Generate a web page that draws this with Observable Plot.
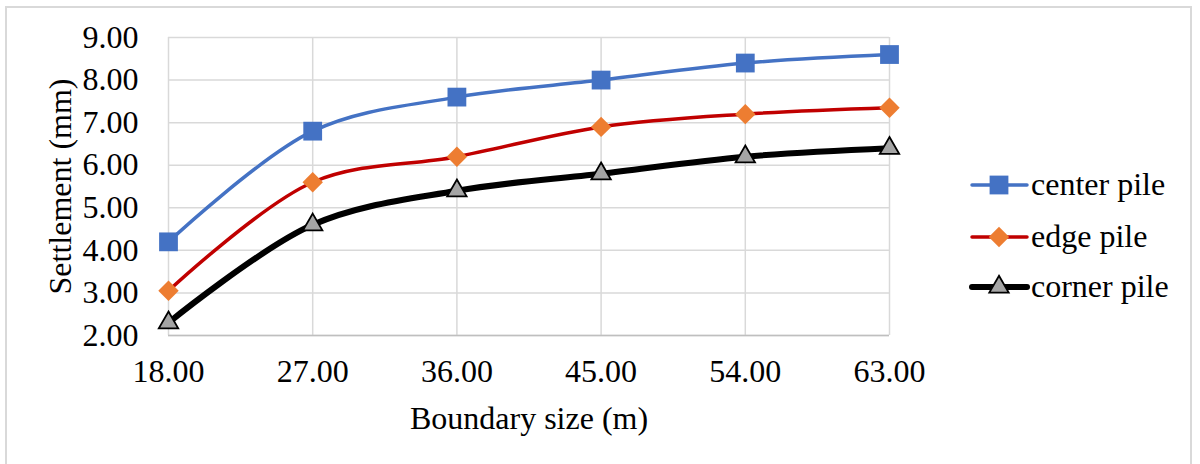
<!DOCTYPE html>
<html>
<head>
<meta charset="utf-8">
<script src="https://cdn.jsdelivr.net/npm/d3@7"></script>
<script src="https://cdn.jsdelivr.net/npm/@observablehq/plot@0.6"></script>
<style>
  html, body { margin: 0; padding: 0; background: #fff; overflow: hidden; }
  #wrap { position: relative; width: 1200px; height: 464px; }
  #border { position: absolute; left: 5px; top: 6px; width: 1187px; height: 500px;
            border: 2px solid #d9d9d9; box-sizing: border-box; }
  #chart { position: absolute; left: 0; top: 0; }
  #legend { position: absolute; left: 0; top: 0; font-family: 'Liberation Serif', 'Times New Roman', serif; }
</style>
</head>
<body>
<div id="wrap">
  <div id="border"></div>
  <div id="chart"></div>
  <svg id="legend" width="1200" height="464"></svg>
</div>
<script>
// ---- data ----
const boundary = [18, 27, 36, 45, 54, 63];
const centerPile = [4.2, 6.8, 7.6, 8.0, 8.4, 8.6];
const edgePile = [3.05, 5.6, 6.2, 6.9, 7.2, 7.35];
const cornerPile = [2.3, 4.6, 5.4, 5.8, 6.2, 6.4];
const yTicks = [2, 3, 4, 5, 6, 7, 8, 9];
const xTicks = [18, 27, 36, 45, 54, 63];
const seriesNames = ["center pile", "edge pile", "corner pile"];
const xLabel = "Boundary size (m)";
const yLabel = "Settlement (mm)";

const styles = {
  "center pile": {line: "#4472C4", width: 3.5, symbol: "square", fill: "#4472C4", stroke: "none", r: 10.6},
  "edge pile": {line: "#C00000", width: 3.5, symbol: "diamond2", fill: "#ED7D31", stroke: "none", r: 9.2},
  "corner pile": {line: "#000000", width: 6, symbol: "triangle", fill: "#A5A5A5", stroke: "#000", r: 7.2}
};

const seriesValues = [centerPile, edgePile, cornerPile];
const rows = [];
seriesNames.forEach((name, i) => {
  boundary.forEach((b, j) => rows.push({series: name, x: b, y: seriesValues[i][j]}));
});

const font = "'Liberation Serif', 'Times New Roman', serif";
const fs = 32;
const fmt = d3.format(".2f");

const marks = [
  Plot.gridX(xTicks, {stroke: "#d9d9d9", strokeOpacity: 1, strokeWidth: 1.5}),
  Plot.gridY(yTicks, {stroke: "#d9d9d9", strokeOpacity: 1, strokeWidth: 1.5}),
  Plot.ruleY([2], {stroke: "#bfbfbf", strokeWidth: 1.5}),
  Plot.axisX(xTicks, {tickSize: 0, tickPadding: 24, tickFormat: fmt, fontSize: fs, fill: "#000", label: null}),
  Plot.axisY(yTicks, {tickSize: 0, tickPadding: 30, tickFormat: fmt, fontSize: fs, fill: "#000", label: null}),
  Plot.text([xLabel], {frameAnchor: "bottom", textAnchor: "middle", lineAnchor: "middle", dy: 83, fontSize: fs, fill: "#000"}),
  Plot.text([yLabel], {frameAnchor: "left", textAnchor: "middle", lineAnchor: "middle", dx: -108, rotate: -90, fontSize: fs, fill: "#000"})
];
for (const name of seriesNames) {
  const s = styles[name];
  const data = rows.filter(d => d.series === name);
  marks.push(Plot.line(data, {x: "x", y: "y", stroke: s.line, strokeWidth: s.width, curve: "catmull-rom"}));
  marks.push(Plot.dot(data, {x: "x", y: "y", symbol: () => s.symbol, r: s.r, fill: s.fill,
    stroke: s.stroke, strokeWidth: s.stroke === "none" ? 0 : 1.8}));
}

const chart = Plot.plot({
  width: 1200,
  height: 464,
  marginLeft: 168,
  marginRight: 311,
  marginTop: 37,
  marginBottom: 129,
  style: {fontFamily: font, fontSize: fs + "px", background: "transparent", color: "#000"},
  x: {type: "linear", domain: [18, 63]},
  y: {type: "linear", domain: [2, 9]},
  marks
});
document.getElementById("chart").appendChild(chart);

// ---- legend (built from series names/styles) ----
const leg = d3.select("#legend");
const legendY = [185, 237, 287];
const symMap = {square: d3.symbolSquare, diamond2: d3.symbolDiamond2, triangle: d3.symbolTriangle};
seriesNames.forEach((name, i) => {
  const s = styles[name];
  const g = leg.append("g").attr("transform", `translate(0,${legendY[i]})`);
  g.append("line").attr("x1", 972).attr("x2", 1027).attr("y1", 0).attr("y2", 0)
    .attr("stroke", s.line).attr("stroke-width", s.width).attr("stroke-linecap", "round");
  g.append("path")
    .attr("transform", `translate(999,0)`)
    .attr("d", d3.symbol(symMap[s.symbol], Math.PI * s.r * s.r)())
    .attr("fill", s.fill)
    .attr("stroke", s.stroke)
    .attr("stroke-width", s.stroke === "none" ? 0 : 1.8);
  g.append("text").attr("x", 1031).attr("y", 0).attr("dy", "0.32em")
    .style("font-family", font).style("font-size", fs + "px").attr("fill", "#000").text(name);
});
</script>
</body>
</html>
